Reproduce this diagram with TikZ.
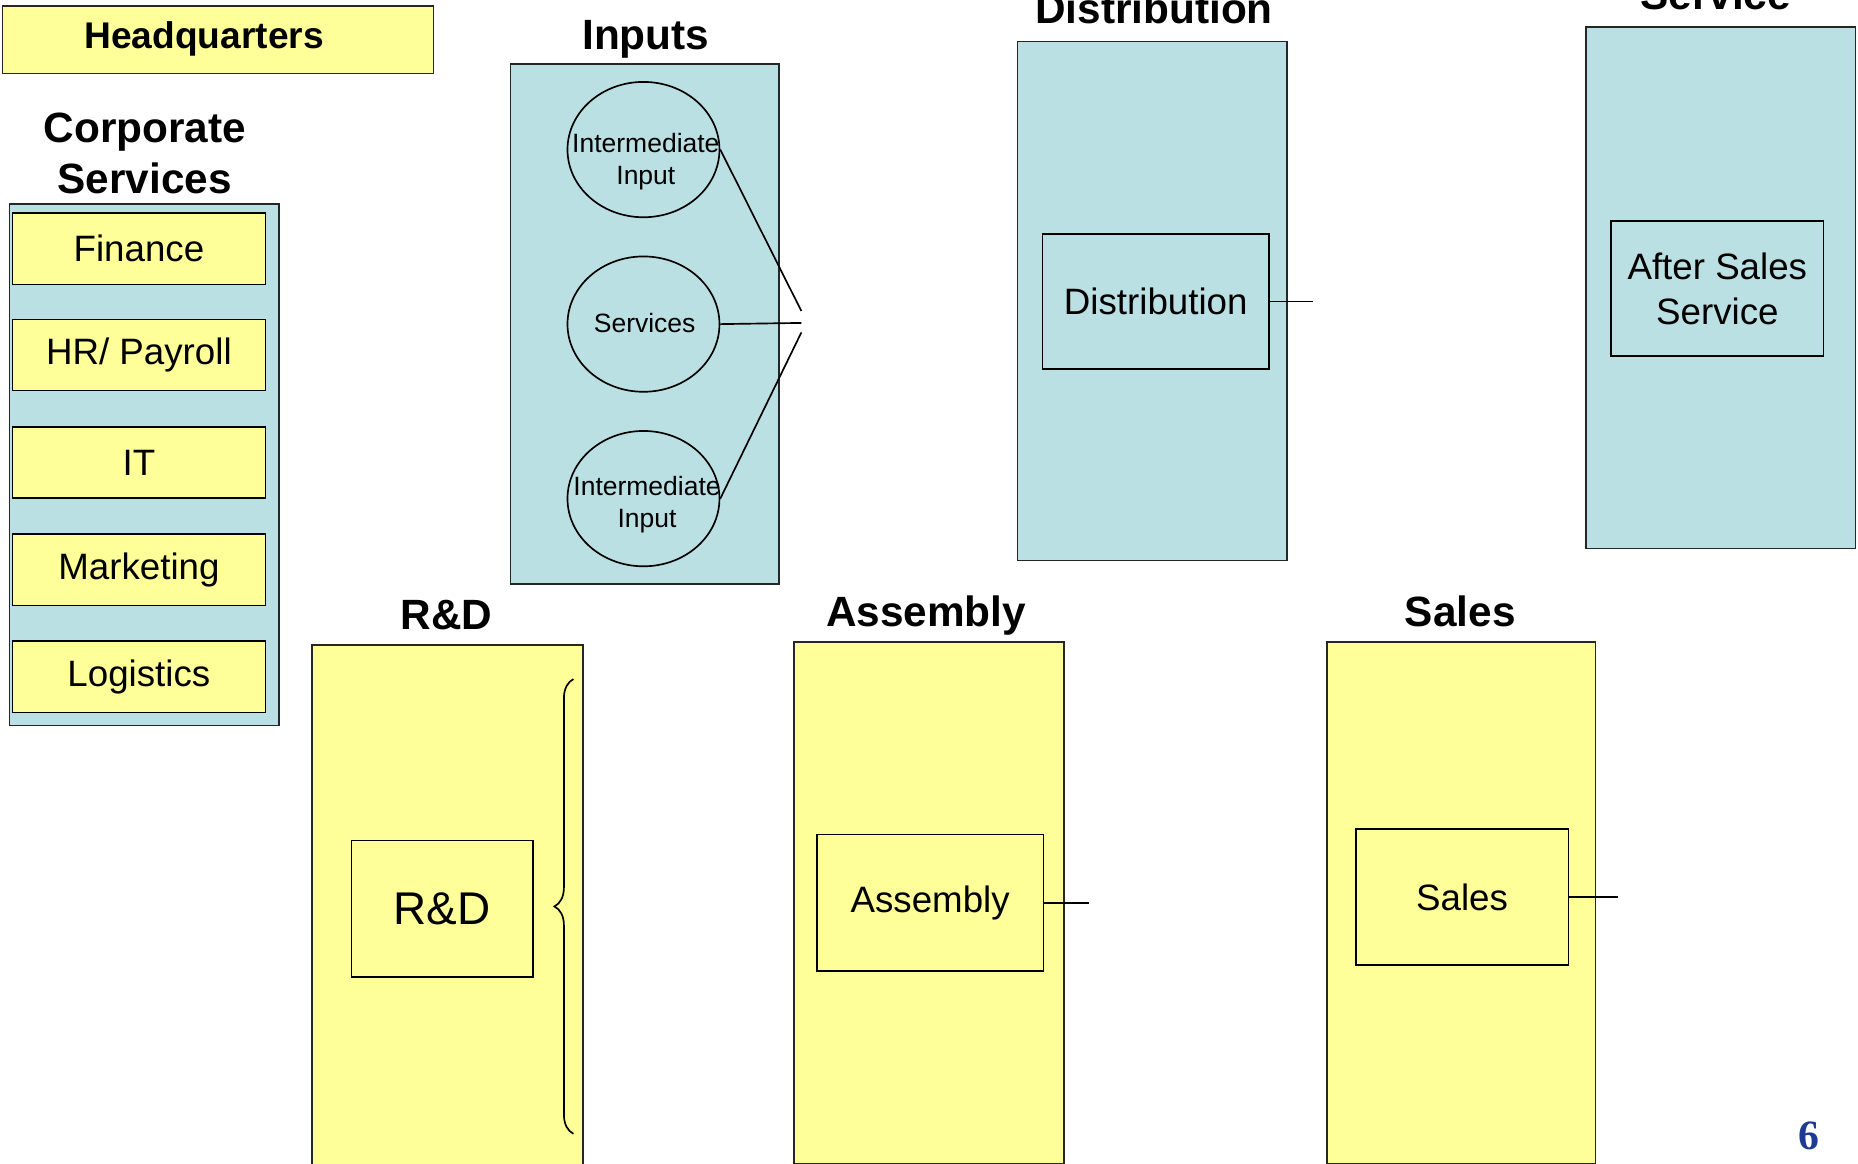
\documentclass[tikz,border=0pt]{standalone}
\usepackage{fontspec}
\setmainfont{Liberation Sans}
\newfontfamily\numfont{Liberation Serif}
\usetikzlibrary{shapes.geometric,decorations.pathreplacing}
\definecolor{padyellow}{HTML}{FFFF99}
\definecolor{padblue}{HTML}{BBE0E3}
\definecolor{pagenum}{HTML}{1F3A93}
\def\unitpx{0.02cm}
\begin{document}
\begin{tikzpicture}[x=0.02cm,y=-0.02cm,line width=0.8pt,
  dims/.style args={#1/#2}{minimum width=#1*\unitpx,minimum height=#2*\unitpx,inner sep=0pt},
  bluepanel/.style={draw=black!85,fill=padblue},
  yellowpanel/.style={draw=black!85,fill=padyellow},
  unitbox/.style={draw,font=\fontsize{17.6}{21.6}\selectfont,align=center},
  title/.style={anchor=base,font=\fontsize{20.3}{24.5}\selectfont\bfseries,align=center},
  inputoval/.style={draw,ellipse,dims=128/114},
  ovaltext/.style={inner sep=0pt,font=\fontsize{12.7}{15.4}\selectfont,align=center}]
\useasboundingbox (0,0) rectangle (1565,980);
\node[yellowpanel,dims=363/57] (hq) at (183.5,33.5) {};
\node[font=\fontsize{17.8}{20}\selectfont\bfseries] (hqtext) at (172,33) {Headquarters};
\node[title] (cstitle) at (122,163) {Corporate\\Services};
\node[bluepanel,dims=227/439] (cs) at (121.5,391.5) {};
\foreach \nm/\txt/\yy in {fin/Finance/209.5,hr/{HR/ Payroll}/299,it/IT/389.5,mkt/Marketing/480,log/Logistics/570}
  \node[unitbox,fill=padyellow,dims=213/60] (\nm) at (117,\yy) {\txt};
\node[title] (intitle) at (544,42) {Inputs};
\node[bluepanel,dims=226/438] (inp) at (543,273) {};
\node[inputoval] (int1) at (542,126) {};
\node[inputoval] (srv) at (542,273) {};
\node[inputoval] (int2) at (542,420) {};
\node[ovaltext] (int1text) at (544,136) {Intermediate\\Input};
\node[ovaltext] (srvtext) at (543,272) {Services};
\node[ovaltext] (int2text) at (545,425) {Intermediate\\Input};
\coordinate (j1) at (675,262);
\coordinate (j2) at (675,272);
\coordinate (j3) at (675,280);
\draw (int1.east) -- (j1);
\draw (srv.east) -- (j2);
\draw (int2.east) -- (j3);
\node[title] (dtitle) at (972,20) {Distribution};
\node[bluepanel,dims=227/437] (dpanel) at (970.5,253.5) {};
\node[unitbox,dims=191/114] (dist) at (973.5,254) {Distribution};
\coordinate (distend) at (1106,254);
\draw (dist.east) -- (distend);
\node[title] (stitle) at (1445,8) {Service};
\node[bluepanel,dims=227/439] (spanel) at (1449.5,242.5) {};
\node[unitbox,dims=179/114] (after) at (1446.5,243) {After Sales\\Service};
\node[title] (rdtitle) at (376,530) {R\&D};
\node[yellowpanel,dims=228/438] (rdpanel) at (377,762) {};
\node[unitbox,dims=153/115,font=\fontsize{22}{26}\selectfont] (rd) at (372.5,765.5) {R\&D};
\coordinate (rdlow) at (483,955);
\coordinate (rdhigh) at (483,572);
\draw[decorate,decoration={brace,amplitude=0.32cm}] (rdlow) -- (rdhigh);
\node[title] (atitle) at (780,528) {Assembly};
\node[yellowpanel,dims=227/439] (apanel) at (782.5,760.5) {};
\node[unitbox,dims=191/115] (asm) at (783.5,760.5) {Assembly};
\coordinate (asmend) at (917,760.5);
\draw (asm.east) -- (asmend);
\node[title] (saltitle) at (1230,528) {Sales};
\node[yellowpanel,dims=226/439] (salpanel) at (1231,760.5) {};
\node[unitbox,dims=179/115] (sal) at (1231.5,755.5) {Sales};
\coordinate (salend) at (1363,755.5);
\draw (sal.east) -- (salend);
\node[font=\fontsize{20}{22}\selectfont\numfont\bfseries,text=pagenum] (pg) at (1524,957) {6};
\end{tikzpicture}
\end{document}
